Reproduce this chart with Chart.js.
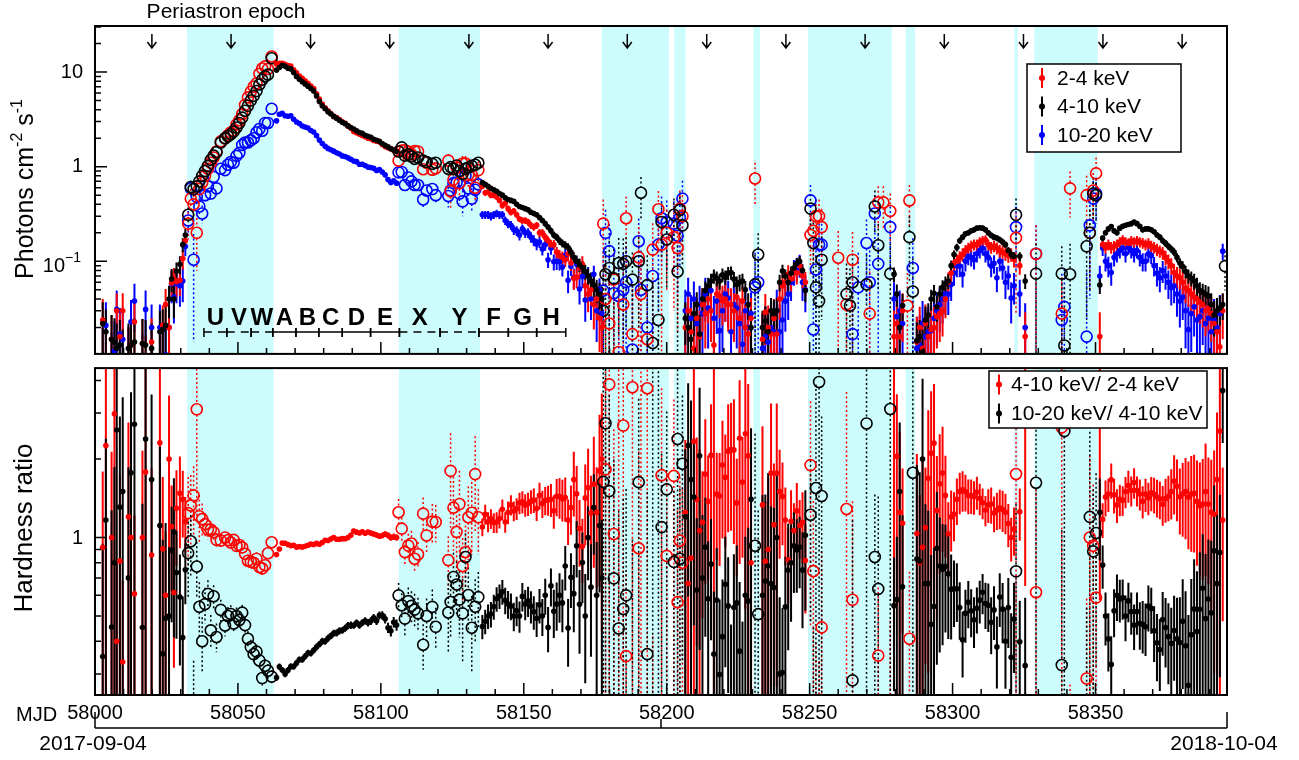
<!DOCTYPE html>
<html>
<head>
<meta charset="utf-8">
<title>Light curve and hardness ratio</title>
<script src="https://cdn.jsdelivr.net/npm/chart.js@4.4.1/dist/chart.umd.min.js"></script>
<style>
  body { margin: 0; background: #fff; }
  #wrap { position: relative; width: 1299px; height: 760px; }
  canvas { position: absolute; left: 0; }
  #flux { top: 0; }
  #hr { top: 361px; }
</style>
</head>
<body>
<div id="wrap">
  <canvas id="flux" width="1299" height="361"></canvas>
  <canvas id="hr" width="1299" height="399"></canvas>
</div>
<script>
const MJD0 = 58000;
const FONT = "'Liberation Sans', Arial, Helvetica, sans-serif";

// ---- monitoring points, filled markers (days since MJD 58000) ----
const dayF = [
  2.7, 3.8, 5.8, 6.8, 7.6, 8.7, 9.7, 11.7, 12.6, 13.8, 16.6, 17.7, 19.8, 22.7, 23.7, 24.7, 25.9, 26.8, 27.6, 28.5,
  29.7, 30.7, 31.6,
  63.5, 64.5, 65.5, 66.5, 67.5, 68.5, 69.5, 70.5, 71.5, 72.5, 73.5, 74.5, 75.5, 76.5, 77.5, 78.5, 79.5, 80.5, 81.5, 82.5,
  83.5, 84.5, 85.5, 86.5, 87.5, 88.5, 89.5, 90.5, 91.5, 92.5, 93.5, 94.5, 95.5, 96.5, 97.5, 98.5, 99.5, 100.5, 101.5, 102.5,
  103.5, 104.5, 105.5,
  135.5, 136.5, 137.5, 138.5, 139.5, 140.5, 141.5, 142.5, 143.5, 144.5, 145.5, 146.5, 147.5, 148.5, 149.5, 150.5, 151.5,
  152.5, 153.5, 154.5, 155.5, 156.5, 157.5, 158.5, 159.5, 160.5, 161.5, 162.5, 163.5, 164.5, 165.5, 166.5, 167.5, 168.5,
  169.5, 170.5, 171.5, 172.5, 173.5, 174.5, 175.5, 176.5, 177.3,
  206.5, 207.5, 208.5, 209.5, 210.5, 211.5, 212.5, 213.5, 214.5, 215.5, 216.5, 217.5, 218.5, 219.5, 220.5, 221.5, 222.5,
  223.5, 224.5, 225.5, 226.5, 227.5, 228.5, 229.5,
  233.5, 234.5, 235.5, 236.5, 237.5, 238.5, 239.5, 240.5, 241.5, 242.5, 243.5, 244.5, 245.5, 246.5, 247.5, 248.5,
  279.5, 280.5, 281.5, 282.5,
  287.5, 288.5, 289.5, 290.5, 291.5, 292.5, 293.5, 294.5, 295.5, 296.5, 297.5, 298.5, 299.5, 300.5, 301.5, 302.5, 303.5,
  304.5, 305.5, 306.5, 307.5, 308.5, 309.5, 310.5, 311.5, 312.5, 313.5, 314.5, 315.5, 316.5, 317.5, 318.5, 319.5, 320.5,
  321.5, 323.5, 325.4,
  351.5, 352.5, 353.5, 354.5, 355.5, 356.5, 357.5, 358.5, 359.5, 360.5, 361.5, 362.5, 363.5, 364.5, 365.5, 366.5, 367.5,
  368.5, 369.5, 370.5, 371.5, 372.5, 373.5, 374.5, 375.5, 376.5, 377.5, 378.5, 379.5, 380.5, 381.5, 382.5, 383.5, 384.5,
  385.5, 386.5, 387.5, 388.5, 389.5, 390.5, 391.5, 392.5, 393.5, 394.5
];

// photons cm^-2 s^-1, 2-4 keV
const f24 = [
  0.024, 0.008, 0.015, 0.0047, 0.030, 0.016, 0.030, 0.010, 0.013, 0.023, 0.0135, 0.0073, 0.014, 0.0078, 0.021, 0.035,
  0.020, 0.059, 0.065, 0.061, 0.063, 0.107, 0.165,
  12.2, 12.4, 12.4, 12.1, 11.7, 11.6, 10.6, 9.8, 9.1, 8.6, 8.1, 7.6, 7.1, 6.7, 5.9, 5.2, 4.6, 4.2, 3.9, 3.65,
  3.4, 3.3, 3.15, 2.98, 2.88, 2.7, 2.55, 2.36, 2.29, 2.21, 2.14, 2.07, 2.0, 1.97, 1.89, 1.86, 1.83, 1.72, 1.63, 1.59,
  1.55, 1.49, 1.45,
  0.62, 0.53, 0.54, 0.50, 0.50, 0.48, 0.44, 0.39, 0.41, 0.36, 0.33, 0.34, 0.31, 0.28, 0.27, 0.27, 0.26,
  0.24, 0.23, 0.24, 0.20, 0.20, 0.18, 0.165, 0.15, 0.15, 0.125, 0.115, 0.11, 0.104, 0.12, 0.096, 0.066, 0.068,
  0.085, 0.093, 0.055, 0.045, 0.05, 0.035, 0.04, 0.025, 0.02,
  0.020, 0.030, 0.018, 0.012, 0.025, 0.016, 0.035, 0.028, 0.040, 0.030, 0.013, 0.045, 0.043, 0.038, 0.040, 0.035, 0.035,
  0.030, 0.042, 0.025, 0.038, 0.020, 0.017, 0.025,
  0.015, 0.029, 0.020, 0.017, 0.025, 0.017, 0.040, 0.055, 0.060, 0.073, 0.065, 0.080, 0.075, 0.090, 0.070, 0.060,
  0.016, 0.022, 0.016, 0.030,
  0.014, 0.020, 0.012, 0.022, 0.016, 0.019, 0.020, 0.026, 0.028, 0.030, 0.040, 0.060, 0.075, 0.096, 0.100, 0.110, 0.118,
  0.130, 0.138, 0.145, 0.150, 0.150, 0.160, 0.165, 0.169, 0.150, 0.140, 0.145, 0.138, 0.130, 0.125, 0.120, 0.115, 0.118,
  0.105, 0.090, 0.016,
  0.016, 0.15, 0.14, 0.15, 0.14, 0.144, 0.15, 0.16, 0.169, 0.16, 0.155, 0.165, 0.16, 0.165, 0.16, 0.156, 0.15,
  0.155, 0.145, 0.14, 0.133, 0.128, 0.123, 0.11, 0.10, 0.09, 0.076, 0.07, 0.067, 0.06, 0.052, 0.049, 0.045, 0.042,
  0.04, 0.037, 0.035, 0.03, 0.032, 0.028, 0.022, 0.018, 0.0125, 0.03
];
const e24 = [
  0.016, 0.010, 0.012, 0.008, 0.016, 0.012, 0.016, 0.010, 0.011, 0.014, 0.011, 0.009, 0.011, 0.009, 0.013, 0.016,
  0.013, 0.02, 0.02, 0.02, 0.02, 0.025, 0.03,
  0.16, 0.16, 0.16, 0.16, 0.15, 0.15, 0.14, 0.13, 0.12, 0.11, 0.11, 0.10, 0.09, 0.09, 0.08, 0.07, 0.06, 0.06, 0.05, 0.05,
  0.05, 0.05, 0.04, 0.04, 0.04, 0.04, 0.04, 0.035, 0.035, 0.035, 0.03, 0.03, 0.03, 0.03, 0.03, 0.03, 0.03, 0.03, 0.03, 0.03,
  0.03, 0.03, 0.03,
  0.04, 0.04, 0.04, 0.035, 0.035, 0.035, 0.03, 0.03, 0.03, 0.03, 0.025, 0.025, 0.025, 0.022, 0.022, 0.022, 0.022,
  0.02, 0.02, 0.02, 0.02, 0.02, 0.018, 0.018, 0.018, 0.018, 0.017, 0.017, 0.017, 0.017, 0.02, 0.017, 0.016, 0.016,
  0.02, 0.02, 0.016, 0.016, 0.016, 0.016, 0.016, 0.014, 0.014,
  0.015, 0.016, 0.014, 0.013, 0.016, 0.014, 0.017, 0.016, 0.018, 0.016, 0.013, 0.018, 0.018, 0.017, 0.017, 0.017, 0.017,
  0.016, 0.018, 0.016, 0.017, 0.015, 0.014, 0.016,
  0.013, 0.016, 0.014, 0.013, 0.015, 0.013, 0.016, 0.017, 0.017, 0.018, 0.017, 0.018, 0.018, 0.019, 0.018, 0.017,
  0.014, 0.015, 0.014, 0.016,
  0.012, 0.013, 0.011, 0.013, 0.012, 0.013, 0.013, 0.014, 0.014, 0.014, 0.015, 0.016, 0.017, 0.018, 0.018, 0.018, 0.019,
  0.019, 0.019, 0.02, 0.02, 0.02, 0.02, 0.02, 0.02, 0.02, 0.02, 0.02, 0.02, 0.02, 0.02, 0.019, 0.019, 0.019,
  0.019, 0.018, 0.013,
  0.013, 0.02, 0.02, 0.02, 0.02, 0.02, 0.02, 0.02, 0.02, 0.02, 0.02, 0.02, 0.02, 0.02, 0.02, 0.02, 0.02,
  0.02, 0.02, 0.02, 0.02, 0.019, 0.019, 0.019, 0.018, 0.018, 0.018, 0.017, 0.017, 0.017, 0.016, 0.016, 0.016, 0.015,
  0.015, 0.015, 0.015, 0.014, 0.014, 0.014, 0.014, 0.013, 0.013, 0.015
];

// 4-10 keV
const f410 = [
  0.022, 0.018, 0.015, 0.014, 0.012, 0.013, 0.010, 0.012, 0.013, 0.014, 0.0135, 0.013, 0.012, 0.018, 0.019, 0.021,
  0.040, 0.065, 0.040, 0.079, 0.093, 0.15, 0.19,
  10.5, 11.2, 11.8, 11.5, 11.0, 10.8, 9.9, 9.0, 8.4, 7.9, 7.5, 7.1, 6.7, 6.3, 5.6, 4.9, 4.4, 4.1, 3.8, 3.6,
  3.4, 3.25, 3.1, 2.95, 2.85, 2.7, 2.6, 2.5, 2.4, 2.3, 2.25, 2.15, 2.1, 2.05, 1.95, 1.9, 1.85, 1.75, 1.68, 1.62,
  1.55, 1.5, 1.45,
  0.68, 0.65, 0.62, 0.59, 0.57, 0.55, 0.52, 0.50, 0.47, 0.45, 0.44, 0.43, 0.40, 0.38, 0.37, 0.36, 0.35,
  0.33, 0.32, 0.31, 0.29, 0.27, 0.25, 0.23, 0.21, 0.19, 0.18, 0.165, 0.155, 0.148, 0.14, 0.125, 0.11, 0.10,
  0.092, 0.086, 0.078, 0.070, 0.062, 0.056, 0.050, 0.045, 0.040,
  0.025, 0.020, 0.015, 0.028, 0.035, 0.017, 0.040, 0.049, 0.055, 0.062, 0.070, 0.066, 0.062, 0.072, 0.068, 0.075, 0.076,
  0.065, 0.057, 0.060, 0.062, 0.050, 0.035, 0.020,
  0.020, 0.0235, 0.018, 0.030, 0.028, 0.030, 0.060, 0.079, 0.070, 0.060, 0.075, 0.085, 0.095, 0.100, 0.080, 0.049,
  0.073, 0.045, 0.020, 0.034,
  0.0145, 0.016, 0.011, 0.024, 0.027, 0.040, 0.046, 0.033, 0.045, 0.053, 0.058, 0.062, 0.090, 0.118, 0.140, 0.165, 0.180,
  0.195, 0.200, 0.210, 0.215, 0.224, 0.226, 0.224, 0.215, 0.200, 0.188, 0.180, 0.176, 0.169, 0.160, 0.150, 0.130, 0.118,
  0.113, 0.113, 0.062,
  0.056, 0.176, 0.20, 0.22, 0.233, 0.21, 0.20, 0.224, 0.235, 0.24, 0.245, 0.25, 0.26, 0.25, 0.235, 0.215, 0.22,
  0.22, 0.215, 0.205, 0.19, 0.18, 0.165, 0.155, 0.144, 0.135, 0.125, 0.11, 0.096, 0.088, 0.078, 0.07, 0.066, 0.062,
  0.055, 0.049, 0.047, 0.045, 0.043, 0.035, 0.027, 0.03, 0.032, 0.035
];
const e410 = [
  0.015, 0.013, 0.012, 0.011, 0.010, 0.011, 0.009, 0.010, 0.010, 0.011, 0.011, 0.011, 0.010, 0.012, 0.012, 0.013,
  0.015, 0.018, 0.015, 0.018, 0.02, 0.025, 0.03,
  0.14, 0.15, 0.15, 0.15, 0.14, 0.14, 0.13, 0.12, 0.11, 0.1, 0.1, 0.09, 0.09, 0.08, 0.07, 0.06, 0.06, 0.05, 0.05, 0.05,
  0.05, 0.04, 0.04, 0.04, 0.04, 0.04, 0.04, 0.035, 0.035, 0.03, 0.03, 0.03, 0.03, 0.03, 0.03, 0.03, 0.03, 0.03, 0.03, 0.03,
  0.03, 0.03, 0.03,
  0.03, 0.03, 0.03, 0.03, 0.03, 0.03, 0.025, 0.025, 0.025, 0.025, 0.02, 0.02, 0.02, 0.02, 0.02, 0.02, 0.02,
  0.02, 0.02, 0.02, 0.018, 0.018, 0.018, 0.017, 0.017, 0.016, 0.016, 0.016, 0.015, 0.015, 0.015, 0.015, 0.015, 0.015,
  0.015, 0.015, 0.014, 0.014, 0.014, 0.014, 0.014, 0.014, 0.014,
  0.012, 0.011, 0.010, 0.012, 0.012, 0.010, 0.012, 0.012, 0.012, 0.012, 0.012, 0.012, 0.012, 0.012, 0.012, 0.012, 0.012,
  0.012, 0.012, 0.012, 0.012, 0.012, 0.011, 0.011,
  0.010, 0.010, 0.010, 0.011, 0.011, 0.011, 0.012, 0.013, 0.012, 0.012, 0.013, 0.013, 0.013, 0.014, 0.013, 0.012,
  0.013, 0.012, 0.011, 0.011,
  0.008, 0.008, 0.008, 0.009, 0.009, 0.010, 0.010, 0.010, 0.010, 0.010, 0.011, 0.011, 0.012, 0.012, 0.013, 0.013, 0.013,
  0.013, 0.013, 0.013, 0.013, 0.013, 0.013, 0.013, 0.013, 0.013, 0.013, 0.013, 0.013, 0.013, 0.013, 0.012, 0.012, 0.012,
  0.012, 0.012, 0.011,
  0.011, 0.013, 0.013, 0.013, 0.013, 0.013, 0.013, 0.013, 0.013, 0.013, 0.013, 0.013, 0.013, 0.013, 0.013, 0.013, 0.013,
  0.013, 0.013, 0.013, 0.013, 0.013, 0.013, 0.013, 0.012, 0.012, 0.012, 0.012, 0.012, 0.012, 0.012, 0.012, 0.012, 0.012,
  0.012, 0.011, 0.011, 0.011, 0.011, 0.011, 0.011, 0.011, 0.011, 0.011
];

// 10-20 keV
const f1020 = [
  0.0077, 0.021, 0.0068, 0.0112, 0.031, 0.017, 0.015, 0.0084, 0.023, 0.038, 0.0061, 0.031, 0.020, 0.020, 0.0068, 0.0103,
  0.020, 0.058, 0.042, 0.058, 0.055, 0.062, 0.143,
  3.05, 3.58, 3.66, 3.45, 3.41, 3.46, 3.17, 2.97, 2.86, 2.69, 2.63, 2.56, 2.41, 2.33, 2.13, 1.91, 1.76, 1.64, 1.56, 1.51,
  1.46, 1.40, 1.36, 1.30, 1.28, 1.24, 1.20, 1.15, 1.13, 1.06, 1.06, 1.03, 0.99, 0.98, 0.96, 0.91, 0.93, 0.88, 0.82, 0.73,
  0.68, 0.71, 0.67,
  0.31, 0.31, 0.31, 0.30, 0.31, 0.32, 0.31, 0.31, 0.27, 0.25, 0.24, 0.215, 0.21, 0.19, 0.22, 0.20, 0.20,
  0.18, 0.166, 0.152, 0.16, 0.135, 0.15, 0.104, 0.137, 0.099, 0.10, 0.099, 0.087, 0.115, 0.063, 0.088, 0.067, 0.093,
  0.051, 0.069, 0.039, 0.07, 0.04, 0.073, 0.03, 0.05, 0.028,
  0.030, 0.045, 0.025, 0.040, 0.022, 0.035, 0.028, 0.045, 0.032, 0.049, 0.025, 0.038, 0.0185, 0.030, 0.045, 0.041, 0.018,
  0.035, 0.032, 0.022, 0.0133, 0.030, 0.020, 0.028,
  0.012, 0.016, 0.014, 0.020, 0.018, 0.030, 0.018, 0.024, 0.038, 0.045, 0.060, 0.079, 0.085, 0.092, 0.060, 0.050,
  0.040, 0.026, 0.030, 0.022,
  0.012, 0.013, 0.022, 0.016, 0.018, 0.0186, 0.025, 0.030, 0.035, 0.040, 0.045, 0.045, 0.057, 0.075, 0.089, 0.089, 0.073,
  0.100, 0.113, 0.110, 0.104, 0.120, 0.130, 0.138, 0.120, 0.110, 0.089, 0.095, 0.067, 0.100, 0.085, 0.060, 0.070, 0.041,
  0.055, 0.045, 0.020,
  0.070, 0.138, 0.10, 0.09, 0.076, 0.11, 0.12, 0.13, 0.138, 0.12, 0.14, 0.13, 0.12, 0.13, 0.11, 0.10, 0.10,
  0.12, 0.115, 0.09, 0.075, 0.067, 0.08, 0.07, 0.06, 0.053, 0.055, 0.045, 0.038, 0.042, 0.03, 0.019, 0.028, 0.033,
  0.024, 0.026, 0.03, 0.022, 0.025, 0.018, 0.024, 0.02, 0.028, 0.128
];
const e1020 = [
  0.012, 0.016, 0.011, 0.012, 0.018, 0.015, 0.014, 0.012, 0.016, 0.02, 0.011, 0.018, 0.015, 0.015, 0.011, 0.012,
  0.015, 0.022, 0.02, 0.022, 0.022, 0.025, 0.03,
  0.08, 0.09, 0.09, 0.09, 0.09, 0.09, 0.08, 0.08, 0.07, 0.07, 0.07, 0.07, 0.06, 0.06, 0.06, 0.05, 0.05, 0.045, 0.045, 0.04,
  0.04, 0.04, 0.04, 0.035, 0.035, 0.035, 0.035, 0.03, 0.03, 0.03, 0.03, 0.03, 0.03, 0.03, 0.03, 0.03, 0.03, 0.03, 0.03, 0.03,
  0.03, 0.03, 0.03,
  0.03, 0.03, 0.03, 0.03, 0.03, 0.03, 0.03, 0.03, 0.028, 0.027, 0.026, 0.025, 0.025, 0.024, 0.025, 0.024, 0.024,
  0.023, 0.022, 0.021, 0.022, 0.02, 0.021, 0.019, 0.02, 0.019, 0.019, 0.019, 0.018, 0.019, 0.017, 0.018, 0.017, 0.018,
  0.016, 0.017, 0.016, 0.017, 0.016, 0.017, 0.016, 0.016, 0.016,
  0.02, 0.022, 0.019, 0.021, 0.018, 0.02, 0.019, 0.022, 0.02, 0.022, 0.018, 0.021, 0.017, 0.019, 0.022, 0.021, 0.017,
  0.02, 0.02, 0.018, 0.016, 0.019, 0.017, 0.019,
  0.016, 0.017, 0.016, 0.018, 0.017, 0.02, 0.017, 0.018, 0.02, 0.021, 0.022, 0.024, 0.024, 0.025, 0.022, 0.021,
  0.02, 0.018, 0.019, 0.018,
  0.014, 0.014, 0.016, 0.015, 0.015, 0.015, 0.016, 0.017, 0.017, 0.018, 0.018, 0.018, 0.019, 0.02, 0.021, 0.021, 0.02,
  0.022, 0.022, 0.022, 0.022, 0.023, 0.023, 0.023, 0.023, 0.022, 0.021, 0.021, 0.02, 0.022, 0.021, 0.02, 0.02, 0.019,
  0.02, 0.019, 0.016,
  0.02, 0.024, 0.022, 0.022, 0.021, 0.022, 0.023, 0.023, 0.023, 0.023, 0.023, 0.023, 0.023, 0.023, 0.022, 0.022, 0.022,
  0.023, 0.022, 0.021, 0.021, 0.02, 0.021, 0.02, 0.02, 0.019, 0.019, 0.019, 0.018, 0.018, 0.018, 0.016, 0.017, 0.017,
  0.016, 0.016, 0.017, 0.016, 0.016, 0.015, 0.016, 0.015, 0.016, 0.025
];

// ---- pointed observations, open markers ----
const dayO = [
  32.6, 33.5, 34.5, 35.6, 36.5, 37.5, 38.5, 39.5, 40.5, 41.5, 42.5, 44, 45.5, 46.5, 47.5, 48.5, 49.5, 50.5, 51.5,
  52.5, 53.5, 54.5, 55.5, 56.5, 57.5, 58.5, 59.5, 60.5, 61.8,
  106.2, 107.3, 108.4, 109.6, 110.7, 111.8, 113, 114.8, 116, 118, 119.2, 123.6, 124.4, 125.4, 126.5, 127.5, 128.6,
  129.6, 130.6, 131.8, 133, 134.1,
  177.8, 178.6, 179.9, 181.5, 183.2, 184.8, 185.8, 188.0, 190.2, 191.0, 193.2, 195.1, 197.1, 198.2, 200.0, 202.5,
  203.8, 204.6, 205.5,
  230.9, 232.0,
  250.3, 251.3, 252.2, 253.3, 254.2, 260.0, 262.9, 264.1, 265.0, 267.0, 269.9, 271.0, 272.8, 274.0, 275.8, 278.2,
  284.2, 284.9, 286.1,
  322.2, 329.2, 338.2, 339.1, 341.1, 346.9, 348.0, 349.2, 350.2,
  395.3
];
const o24 = [
  0.25, 0.46, 0.40, 0.20, 0.58, 0.68, 0.80, 0.95, 1.10, 1.25, 1.45, 1.85, 2.0, 2.15, 2.3, 2.4, 2.8, 3.1, 3.6,
  4.5, 5.4, 6.2, 7.0, 7.6, 9.6, 10.9, 11.5, 10.8, 14.6,
  1.16, 1.48, 1.49, 1.45, 1.35, 1.46, 1.45, 0.94, 1.10, 0.93, 0.96, 1.16, 0.55, 0.73, 0.98, 0.67, 1.08,
  1.08, 0.82, 0.82, 0.6, 0.92,
  0.25, 0.040, 0.022, 0.064, 0.011, 0.035, 0.285, 0.017, 0.11, 0.045, 0.015, 0.133, 0.355, 0.15, 0.20, 0.18,
  0.138, 0.36, 0.30,
  0.75, null,
  0.19, 0.21, 0.30, 0.30, 0.23, 0.109, 0.035, null, 0.104, null, null, 0.028, null, 0.42, 0.42, 0.34,
  0.034, 0.44, null,
  0.177, 0.12, 0.028, null, 0.59, 0.50, 0.20, 0.56, 0.85,
  null
];
const oe24 = [
  0.08, 0.12, 0.1, 0.12, 0.1, 0.08, 0.06, 0.06, 0.06, 0.06, 0.06, 0.07, 0.07, 0.07, 0.08, 0.08, 0.1, 0.1, 0.12,
  0.15, 0.2, 0.2, 0.25, 0.3, 0.35, 0.4, 0.4, 0.4, 0.5,
  0.12, 0.12, 0.12, 0.12, 0.12, 0.12, 0.12, 0.12, 0.13, 0.13, 0.13, 0.2, 0.2, 0.2, 0.2, 0.2, 0.22,
  0.22, 0.22, 0.22, 0.22, 0.22,
  0.2, 0.05, 0.05, 0.07, 0.04, 0.05, 0.2, 0.04, 0.12, 0.06, 0.04, 0.12, 0.2, 0.15, 0.15, 0.15,
  0.12, 0.2, 0.2,
  0.35, 0,
  0.12, 0.12, 0.15, 0.15, 0.13, 0.1, 0.05, 0, 0.1, 0, 0, 0.05, 0, 0.2, 0.2, 0.18,
  0.05, 0.2, 0,
  0.15, 0.12, 0.04, 0, 0.3, 0.3, 0.15, 0.3, 0.4,
  0
];
const o410 = [
  0.31, 0.61, 0.58, 0.62, 0.70, 0.80, 0.90, 1.02, 1.18, 1.31, 1.42, 1.8, 2.0, 2.1, 2.2, 2.35, 2.6, 2.9, 3.3,
  3.9, 4.4, 5.0, 5.6, 6.3, 7.4, 8.3, 9.0, 9.4, 14.0,
  1.45, 1.6, 1.31, 1.35, 1.28, 1.21, 1.25, 1.16, 1.12, 1.07, 1.10, 0.95, 0.99, 0.95, 1.03, 0.90, 0.84,
  0.95, 0.98, 1.02, 1.05, 1.10,
  0.030, 0.073, 0.085, 0.066, 0.096, 0.094, 0.10, 0.064, 0.10, 0.53, 0.056, 0.0137, 0.024, 0.26, 0.17, 0.31,
  0.078, 0.35, 0.24,
  0.057, 0.118,
  0.36, 0.156, 0.053, 0.038, 0.104, null, 0.045, 0.034, 0.060, null, 0.057, null, 0.38, 0.148, null, 0.074,
  null, 0.18, 0.048,
  0.31, 0.074, 0.074, 0.0129, 0.073, 0.144, 0.20, 0.52, 0.50,
  0.089
];
const oe410 = [
  0.06, 0.1, 0.09, 0.08, 0.08, 0.07, 0.06, 0.06, 0.06, 0.06, 0.06, 0.07, 0.07, 0.07, 0.08, 0.08, 0.1, 0.1, 0.12,
  0.15, 0.18, 0.2, 0.22, 0.25, 0.3, 0.35, 0.35, 0.35, 0.5,
  0.1, 0.1, 0.1, 0.1, 0.1, 0.1, 0.1, 0.1, 0.1, 0.1, 0.1, 0.15, 0.15, 0.15, 0.15, 0.15, 0.16,
  0.16, 0.16, 0.16, 0.16, 0.16,
  0.05, 0.07, 0.08, 0.07, 0.08, 0.08, 0.08, 0.06, 0.08, 0.25, 0.06, 0.04, 0.05, 0.15, 0.12, 0.15,
  0.07, 0.18, 0.15,
  0.06, 0.08,
  0.15, 0.1, 0.06, 0.06, 0.08, 0, 0.05, 0.05, 0.06, 0, 0.06, 0, 0.18, 0.1, 0, 0.08,
  0, 0.12, 0.06,
  0.15, 0.08, 0.07, 0.04, 0.08, 0.12, 0.15, 0.25, 0.25,
  0.04
];
const o1020 = [
  0.27, 0.59, 0.104, 0.48, 0.38, 0.32, 0.50, 0.62, 0.52, 0.78, 0.59, 0.95, 0.92, 1.05, 1.12, 1.1, 1.3, 1.4, 1.7,
  1.8, 1.8, 1.9, 2.0, 2.3, 2.5, 2.4, 2.9, 2.9, 4.1,
  0.87, 0.88, 0.64, 0.77, 0.70, 0.64, 0.64, 0.45, 0.56, 0.58, 0.50, 0.49, 0.56, 0.67, 0.68, 0.52, 0.43,
  0.80, 0.59, 0.46, 0.57, 0.65,
  0.049, 0.20, 0.128, 0.046, 0.043, 0.05, 0.06, 0.0117, 0.163, 0.05, 0.02, 0.07, 0.15, 0.285, 0.26, 0.25,
  0.186, 0.29, 0.46,
  0.053, 0.06,
  0.44, 0.019, 0.082, 0.15, 0.15, null, null, null, 0.017, 0.053, 0.156, 0.060, 0.32, 0.094, null, 0.23,
  null, null, 0.085,
  0.23, 0.12, 0.024, 0.033, null, 0.016, 0.24, 0.46, 0.52,
  null
];
const oe1020 = [
  0.07, 0.12, 0.09, 0.1, 0.08, 0.07, 0.07, 0.07, 0.07, 0.07, 0.07, 0.08, 0.08, 0.08, 0.08, 0.08, 0.09, 0.09, 0.1,
  0.1, 0.1, 0.1, 0.11, 0.12, 0.13, 0.13, 0.14, 0.14, 0.18,
  0.08, 0.08, 0.08, 0.08, 0.08, 0.08, 0.08, 0.08, 0.08, 0.08, 0.08, 0.12, 0.12, 0.12, 0.12, 0.12, 0.13,
  0.13, 0.13, 0.13, 0.13, 0.13,
  0.08, 0.15, 0.12, 0.07, 0.07, 0.07, 0.08, 0.05, 0.12, 0.08, 0.06, 0.08, 0.12, 0.2, 0.18, 0.18,
  0.14, 0.2, 0.25,
  0.07, 0.08,
  0.2, 0.05, 0.08, 0.1, 0.1, 0, 0, 0, 0.05, 0.07, 0.12, 0.07, 0.18, 0.1, 0, 0.15,
  0, 0, 0.09,
  0.15, 0.12, 0.05, 0.05, 0, 0.06, 0.2, 0.25, 0.25,
  0
];

// shaded intervals (days since MJD 58000)
const shadeFrom = [32.2, 106.3, 177.3, 202.6, 230.3, 249.4, 283.6, 321.6, 328.6];
const shadeTo   = [62.5, 134.7, 200.8, 206.6, 232.6, 278.7, 286.9, 322.8, 350.8];

// periastron passages (days since MJD 58000)
const periastron = [19.9, 47.6, 75.4, 103.1, 130.8, 158.5, 186.2, 214.0, 241.7, 269.4, 297.1, 324.8, 352.6, 380.3];

// outburst intervals
const segEdges = [38.1, 46.1, 54.6, 62.2, 70.3, 78.3, 86.5, 96.4, 106.5, 120.7, 134.3, 144.6, 154.5, 164.7];
const segNames = ['U', 'V', 'W', 'A', 'B', 'C', 'D', 'E', 'X', 'Y', 'F', 'G', 'H'];
const segDashed = [true, true, true, false, false, false, false, false, true, true, false, false, false];

const fluxNames = ['2-4 keV', '4-10 keV', '10-20 keV'];
const hrNames = ['4-10 keV/ 2-4 keV', '10-20 keV/ 4-10 keV'];
const xLabelValues = [58000, 58050, 58100, 58150, 58200, 58250, 58300, 58350];
const dateLabels = ['2017-09-04', '2018-10-04'];

const RED = '#ff0000', BLACK = '#000000', BLUE = '#0000ff';
const X_MIN = 58000, X_MAX = 58396;
const FLUX_MIN = 0.0105, FLUX_MAX = 30.7;
const HR_MIN = 0.249, HR_MAX = 4.46;

// ---- helpers ----
function pts(days, vals, errs) {
  const out = [];
  days.forEach((d, i) => {
    if (vals[i] == null) return;
    out.push({ x: MJD0 + d, y: vals[i], e: errs[i] });
  });
  return out;
}

// ratio num/den with propagated error
function ratio(days, num, eNum, den, eDen) {
  const out = [];
  days.forEach((d, i) => {
    const a = num[i], b = den[i];
    if (a == null || b == null) return;
    const r = a / b;
    out.push({ x: MJD0 + d, y: r, e: r * Math.hypot(eNum[i] / a, eDen[i] / b) });
  });
  return out;
}

function series(label, color, data, open) {
  return {
    label: label,
    data: data,
    open: open,
    showLine: false,
    clip: 0,
    pointStyle: 'circle',
    pointRadius: open ? 5.5 : 2.8,
    pointHoverRadius: open ? 5.5 : 2.8,
    pointBorderWidth: open ? 1.6 : 0,
    pointBorderColor: color,
    pointBackgroundColor: open ? 'rgba(0,0,0,0)' : color,
    borderColor: color,
    backgroundColor: color
  };
}

function logTicks(lo, hi) {
  const out = [];
  for (let k = -3; k <= 2; k++) {
    for (let m = 1; m <= 9; m++) {
      const v = m * Math.pow(10, k);
      if (v >= lo && v <= hi) out.push({ v: v, major: m === 1 });
    }
  }
  return out;
}

function drawShades(chart) {
  const { ctx, chartArea: a, scales: { x } } = chart;
  ctx.save();
  ctx.fillStyle = '#ccfcfc';
  shadeFrom.forEach((s, i) => {
    const x1 = Math.max(a.left, x.getPixelForValue(MJD0 + s));
    const x2 = Math.min(a.right, x.getPixelForValue(MJD0 + shadeTo[i]));
    ctx.fillRect(x1, a.top, x2 - x1, a.bottom - a.top);
  });
  ctx.restore();
}

function drawErrors(chart) {
  const { ctx, chartArea: a, scales: { x, y } } = chart;
  ctx.save();
  ctx.beginPath();
  ctx.rect(a.left, a.top, a.right - a.left, a.bottom - a.top);
  ctx.clip();
  chart.data.datasets.slice().reverse().forEach(ds => {
    ctx.strokeStyle = ds.pointBorderColor;
    ctx.lineWidth = ds.open ? 1.5 : 2;
    ctx.setLineDash(ds.open ? [2, 2.5] : []);
    const gap = ds.open ? ds.pointRadius : 0;
    ds.data.forEach(p => {
      if (!p.e) return;
      const px = x.getPixelForValue(p.x);
      const yc = y.getPixelForValue(p.y);
      const yHi = y.getPixelForValue(p.y + p.e);
      const lo = p.y - p.e;
      const yLo = lo > 0 ? y.getPixelForValue(lo) : a.bottom + 2;
      ctx.beginPath();
      if (yHi < yc - gap) { ctx.moveTo(px, yHi); ctx.lineTo(px, yc - gap); }
      if (yLo > yc + gap) { ctx.moveTo(px, yc + gap); ctx.lineTo(px, yLo); }
      ctx.stroke();
    });
  });
  ctx.restore();
}

function drawFrame(chart, yTicks) {
  const { ctx, chartArea: a, scales: { x, y } } = chart;
  ctx.save();
  ctx.strokeStyle = '#000';
  ctx.lineWidth = 1.5;
  ctx.beginPath();
  for (let v = X_MIN; v <= X_MAX - 5; v += 10) {
    const px = x.getPixelForValue(v);
    const len = v % 50 === 0 ? 12 : 6;
    ctx.moveTo(px, a.bottom);
    ctx.lineTo(px, a.bottom - len);
  }
  yTicks.forEach(t => {
    const py = y.getPixelForValue(t.v);
    ctx.moveTo(a.left, py);
    ctx.lineTo(a.left + (t.major ? 12 : 6), py);
  });
  ctx.stroke();
  ctx.lineWidth = 2;
  ctx.strokeRect(a.left, a.top, a.right - a.left, a.bottom - a.top);
  ctx.restore();
}

function drawLegend(ctx, box, rowsY, markX, textX, names, colors, size) {
  ctx.save();
  ctx.fillStyle = '#fff';
  ctx.fillRect(box[0], box[1], box[2], box[3]);
  ctx.strokeStyle = '#000';
  ctx.lineWidth = 1.5;
  ctx.strokeRect(box[0], box[1], box[2], box[3]);
  names.forEach((n, i) => {
    const yy = rowsY[i];
    ctx.strokeStyle = colors[i];
    ctx.fillStyle = colors[i];
    ctx.lineWidth = 2;
    ctx.beginPath();
    ctx.moveTo(markX, yy - 10);
    ctx.lineTo(markX, yy + 10);
    ctx.stroke();
    ctx.beginPath();
    ctx.arc(markX, yy, 3, 0, Math.PI * 2);
    ctx.fill();
    ctx.fillStyle = '#000';
    ctx.font = size + 'px ' + FONT;
    ctx.textAlign = 'left';
    ctx.textBaseline = 'middle';
    ctx.fillText(n, textX, yy + 1);
  });
  ctx.restore();
}

// rotated title made of [text, size, rise] pieces
function drawTitle(ctx, cx, cy, parts) {
  ctx.save();
  ctx.translate(cx, cy);
  ctx.rotate(-Math.PI / 2);
  ctx.fillStyle = '#000';
  ctx.textAlign = 'left';
  ctx.textBaseline = 'alphabetic';
  let w = 0;
  parts.forEach(p => { ctx.font = p[1] + 'px ' + FONT; w += ctx.measureText(p[0]).width; });
  let pos = -w / 2;
  parts.forEach(p => {
    ctx.font = p[1] + 'px ' + FONT;
    ctx.fillText(p[0], pos, -p[2]);
    pos += ctx.measureText(p[0]).width;
  });
  ctx.restore();
}

// ---- flux panel ----
const fluxDecor = {
  id: 'fluxDecor',
  beforeDatasetsDraw(chart) {
    drawShades(chart);
    drawErrors(chart);
  },
  afterDatasetsDraw(chart) {
    const { ctx, chartArea: a, scales: { x, y } } = chart;
    drawFrame(chart, logTicks(FLUX_MIN, FLUX_MAX));

    ctx.save();
    ctx.fillStyle = '#000';
    ctx.font = '20px ' + FONT;
    ctx.textAlign = 'right';
    ctx.textBaseline = 'middle';
    ctx.fillText('10', 83, y.getPixelForValue(10));
    ctx.fillText('1', 83, y.getPixelForValue(1));
    const p01 = y.getPixelForValue(0.1);
    ctx.fillText('10', 65, p01 + 5);
    ctx.font = '14px ' + FONT;
    ctx.textAlign = 'left';
    ctx.fillText('\u22121', 65, p01 - 3);

    // periastron arrows
    ctx.strokeStyle = '#000';
    ctx.lineWidth = 1.5;
    periastron.forEach(d => {
      const px = x.getPixelForValue(MJD0 + d);
      ctx.beginPath();
      ctx.moveTo(px, 34);
      ctx.lineTo(px, 48);
      ctx.moveTo(px - 4.5, 42);
      ctx.lineTo(px, 48);
      ctx.lineTo(px + 4.5, 42);
      ctx.stroke();
    });
    ctx.font = '21px ' + FONT;
    ctx.textAlign = 'center';
    ctx.textBaseline = 'alphabetic';
    ctx.fillText('Periastron epoch', 226, 18);

    // interval brackets
    const by = 332;
    segNames.forEach((n, i) => {
      const x1 = x.getPixelForValue(MJD0 + segEdges[i]);
      const x2 = x.getPixelForValue(MJD0 + segEdges[i + 1]);
      ctx.lineWidth = 1.5;
      ctx.setLineDash(segDashed[i] ? [8, 6] : []);
      ctx.beginPath();
      ctx.moveTo(x1, by);
      ctx.lineTo(x2, by);
      ctx.stroke();
      ctx.setLineDash([]);
      ctx.beginPath();
      ctx.moveTo(x1, by - 4);
      ctx.lineTo(x1, by + 5);
      ctx.moveTo(x2, by - 4);
      ctx.lineTo(x2, by + 5);
      ctx.stroke();
      ctx.font = 'bold 24px ' + FONT;
      ctx.textAlign = 'center';
      ctx.fillText(n, (x1 + x2) / 2, 325);
    });
    ctx.restore();

    drawTitle(ctx, 33, 189, [['Photons cm', 25, 0], ['-2', 16, 11], [' s', 25, 0], ['-1', 16, 11]]);
    drawLegend(ctx, [1027, 64, 154, 88], [78, 106.5, 135], 1042, 1057, fluxNames, [RED, BLACK, BLUE], 21);
  }
};

new Chart(document.getElementById('flux').getContext('2d'), {
  type: 'scatter',
  data: {
    datasets: [
      series(fluxNames[1], BLACK, pts(dayF, f410, e410), false),
      series(fluxNames[0], RED, pts(dayF, f24, e24), false),
      series(fluxNames[2], BLUE, pts(dayF, f1020, e1020), false),
      series(fluxNames[1], BLACK, pts(dayO, o410, oe410), true),
      series(fluxNames[0], RED, pts(dayO, o24, oe24), true),
      series(fluxNames[2], BLUE, pts(dayO, o1020, oe1020), true)
    ]
  },
  options: {
    responsive: false,
    animation: false,
    devicePixelRatio: 1,
    events: [],
    layout: { padding: { left: 95, right: 72, top: 26, bottom: 4 } },
    plugins: { legend: { display: false }, tooltip: { enabled: false } },
    scales: {
      x: { type: 'linear', min: X_MIN, max: X_MAX, display: false },
      y: { type: 'logarithmic', min: FLUX_MIN, max: FLUX_MAX, display: false }
    }
  },
  plugins: [fluxDecor]
});

// ---- hardness ratio panel ----
const hrDecor = {
  id: 'hrDecor',
  beforeDatasetsDraw(chart) {
    drawShades(chart);
    drawErrors(chart);
  },
  afterDatasetsDraw(chart) {
    const { ctx, chartArea: a, scales: { x, y } } = chart;
    drawFrame(chart, logTicks(HR_MIN, HR_MAX));

    ctx.save();
    ctx.fillStyle = '#000';
    ctx.font = '20px ' + FONT;
    ctx.textAlign = 'right';
    ctx.textBaseline = 'middle';
    ctx.fillText('1', 83, y.getPixelForValue(1) + 1);

    ctx.textAlign = 'center';
    ctx.textBaseline = 'alphabetic';
    xLabelValues.forEach(v => ctx.fillText(String(v), x.getPixelForValue(v), a.bottom + 24));
    ctx.textAlign = 'left';
    ctx.fillText('MJD', 16, a.bottom + 26);

    // calendar axis
    const ly = a.bottom + 33;
    ctx.strokeStyle = '#000';
    ctx.lineWidth = 1.5;
    ctx.beginPath();
    ctx.moveTo(a.left, ly);
    ctx.lineTo(a.right, ly);
    ctx.moveTo(a.left, ly);
    ctx.lineTo(a.left, ly - 16);
    ctx.moveTo(a.right, ly);
    ctx.lineTo(a.right, ly - 16);
    const mid = x.getPixelForValue(58198);
    ctx.moveTo(mid, ly);
    ctx.lineTo(mid, ly - 9);
    ctx.stroke();
    ctx.font = '21px ' + FONT;
    ctx.textAlign = 'center';
    ctx.fillText(dateLabels[0], a.left - 2, ly + 22);
    ctx.fillText(dateLabels[1], a.right - 3, ly + 22);
    ctx.restore();

    drawTitle(ctx, 32, 167, [['Hardness ratio', 26, 0]]);
    drawLegend(ctx, [989, 10, 218, 57], [23.5, 52.5], 999, 1011, hrNames, [RED, BLACK], 21);
  }
};

new Chart(document.getElementById('hr').getContext('2d'), {
  type: 'scatter',
  data: {
    datasets: [
      series(hrNames[1], BLACK, ratio(dayF, f1020, e1020, f410, e410), false),
      series(hrNames[0], RED, ratio(dayF, f410, e410, f24, e24), false),
      series(hrNames[1], BLACK, ratio(dayO, o1020, oe1020, o410, oe410), true),
      series(hrNames[0], RED, ratio(dayO, o410, oe410, o24, oe24), true)
    ]
  },
  options: {
    responsive: false,
    animation: false,
    devicePixelRatio: 1,
    events: [],
    layout: { padding: { left: 95, right: 72, top: 2, bottom: 65 } },
    plugins: { legend: { display: false }, tooltip: { enabled: false } },
    scales: {
      x: { type: 'linear', min: X_MIN, max: X_MAX, display: false },
      y: { type: 'logarithmic', min: HR_MIN, max: HR_MAX, display: false }
    }
  },
  plugins: [hrDecor]
});
</script>
</body>
</html>
